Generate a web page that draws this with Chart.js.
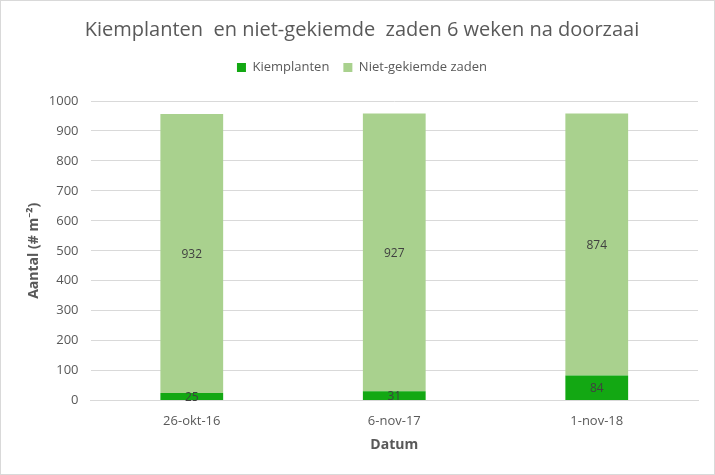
<!DOCTYPE html>
<html>
<head>
<meta charset="utf-8">
<script src="https://cdn.jsdelivr.net/npm/chart.js"></script>
<style>
    html, body { margin: 0; padding: 0; background: #fff; }
    .wrap {
        width: 713px;
        height: 473px;
        border: 1px solid #d9d9d9;
        position: relative;
    }
</style>
</head>
<body>
<div class="wrap"><canvas id="chart"></canvas></div>
<script>
const categories = ['26-okt-16', '6-nov-17', '1-nov-18'];
const kiemplanten = [25, 31, 84];
const nietGekiemd = [932, 927, 874];
const yTicks = [0, 100, 200, 300, 400, 500, 600, 700, 800, 900, 1000];

const fontFamily = "'Open Sans', 'Noto Sans', sans-serif";
const textColor = '#595959';

// Draw each value in the middle of its bar segment
const barLabels = {
    id: 'barLabels',
    afterDatasetsDraw(chart) {
        const ctx = chart.ctx;
        ctx.save();
        ctx.font = '12px ' + fontFamily;
        ctx.fillStyle = '#404040';
        ctx.textAlign = 'center';
        ctx.textBaseline = 'middle';
        chart.data.datasets.forEach((ds, i) => {
            chart.getDatasetMeta(i).data.forEach((bar, j) => {
                const mid = (bar.y + bar.base) / 2;
                ctx.fillText(String(ds.data[j]), bar.x, mid + 1);
            });
        });
        ctx.restore();
    }
};

// Extra room between legend and plot area
const legendGap = {
    id: 'legendGap',
    beforeInit(chart) {
        const fit = chart.legend.fit;
        chart.legend.fit = function () {
            fit.bind(chart.legend)();
            this.height += 17;
        };
    }
};

new Chart(document.getElementById('chart'), {
    type: 'bar',
    data: {
        labels: categories,
        datasets: [
            {
                label: 'Kiemplanten',
                data: kiemplanten,
                backgroundColor: '#13a813',
                barPercentage: 0.62,
                categoryPercentage: 0.5
            },
            {
                label: 'Niet-gekiemde zaden',
                data: nietGekiemd,
                backgroundColor: '#a9d18e',
                barPercentage: 0.62,
                categoryPercentage: 0.5
            }
        ]
    },
    options: {
        responsive: true,
        maintainAspectRatio: false,
        animation: false,
        layout: { padding: { left: 25, right: 16, top: 10, bottom: 17 } },
        plugins: {
            title: {
                display: true,
                text: 'Kiemplanten  en niet-gekiemde  zaden 6 weken na doorzaai',
                color: textColor,
                font: { family: fontFamily, size: 20, weight: 'normal' },
                padding: { top: 7, bottom: 5 }
            },
            legend: {
                position: 'top',
                labels: {
                    color: textColor,
                    font: { family: fontFamily, size: 13 },
                    boxWidth: 9,
                    boxHeight: 9,
                    padding: 14
                }
            },
            tooltip: { enabled: false }
        },
        scales: {
            x: {
                stacked: true,
                grid: { display: false },
                border: { color: '#d9d9d9' },
                ticks: {
                    color: textColor,
                    font: { family: fontFamily, size: 13 },
                    padding: 5
                },
                title: {
                    display: true,
                    text: 'Datum',
                    color: textColor,
                    font: { family: fontFamily, size: 14, weight: 'bold' },
                    padding: { top: 2 }
                }
            },
            y: {
                stacked: true,
                min: 0,
                max: 1000,
                afterBuildTicks(axis) {
                    axis.ticks = yTicks.map(v => ({ value: v }));
                },
                grid: { color: '#d9d9d9', drawTicks: false },
                border: { display: false },
                ticks: {
                    color: textColor,
                    font: { family: fontFamily, size: 13 },
                    padding: 12,
                    callback: v => String(v)
                },
                title: {
                    display: true,
                    text: 'Aantal (# m⁻²)',
                    color: textColor,
                    font: { family: fontFamily, size: 14, weight: 'bold' },
                    padding: { top: 0, bottom: -6 }
                }
            }
        }
    },
    plugins: [barLabels, legendGap]
});
</script>
</body>
</html>
